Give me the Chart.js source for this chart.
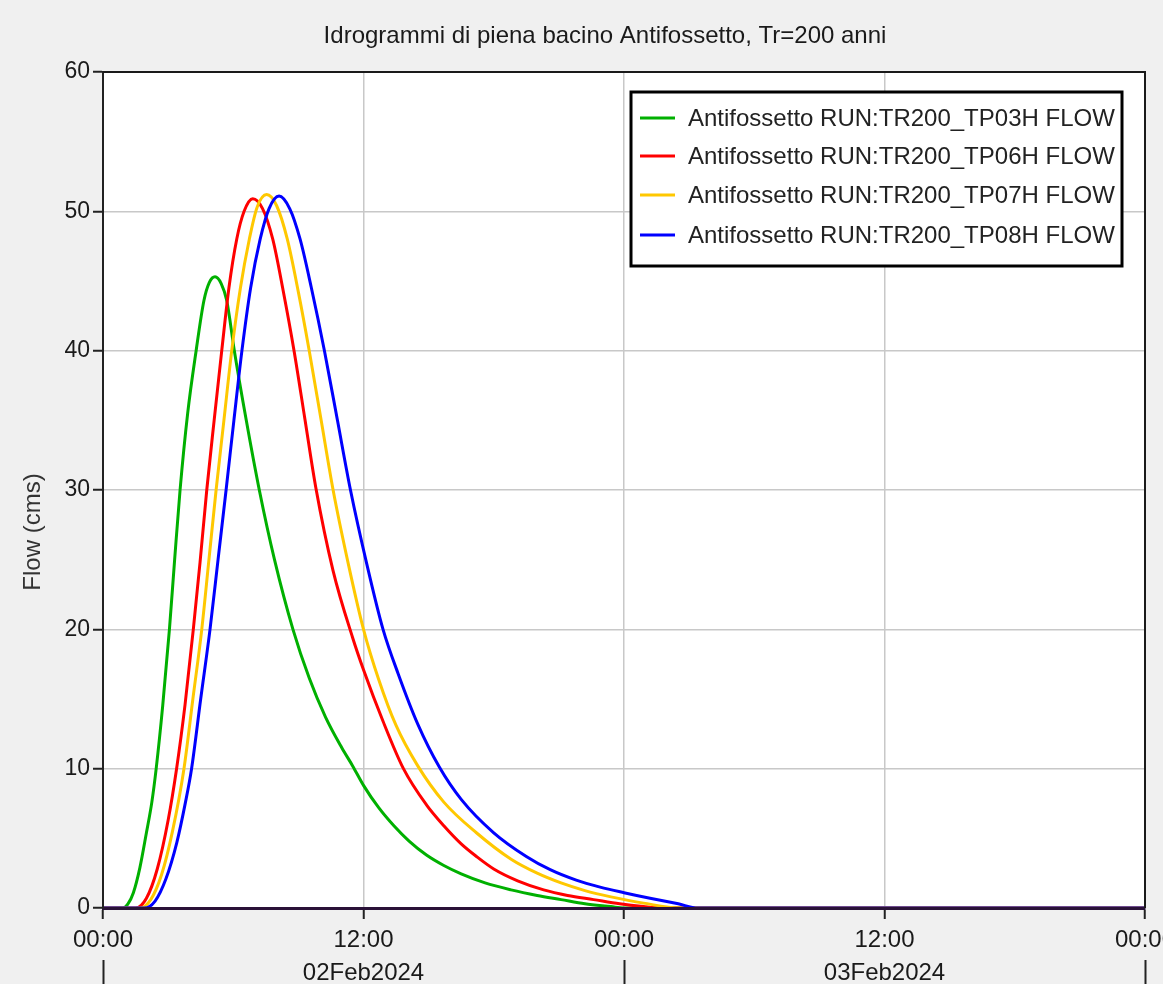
<!DOCTYPE html>
<html>
<head>
<meta charset="utf-8">
<title>Idrogrammi di piena bacino Antifossetto</title>
<script src="https://cdn.jsdelivr.net/npm/chart.js@4.4.1/dist/chart.umd.min.js"></script>
<style>
  html, body { margin: 0; padding: 0; background: #f0f0f0; overflow: hidden; }
  canvas { display: block; }
</style>
</head>
<body>
<canvas id="flowChart" width="1175" height="984"></canvas>
<script>
const hoursTP03 = [0, 0.9, 1.15, 1.4, 1.7, 2.0, 2.25, 2.45, 2.75, 3.06, 3.3, 3.55, 3.9, 4.29, 4.65, 4.9, 5.16, 5.45, 5.7, 6.05, 6.6, 7.2, 7.9, 8.75, 9.5, 10.25, 11.0, 11.5, 12.0, 12.7, 13.4, 14.1, 14.9, 15.7, 16.5, 17.6, 18.8, 20.0, 21.1, 22.2, 23.4, 24.0, 48];
const flowTP03 = [0, 0, 0.3, 1.1, 2.9, 5.4, 7.6, 10, 14.5, 20, 25, 30, 35.5, 40, 43.6, 44.9, 45.3, 44.8, 43.6, 40, 35, 30, 25, 20, 16.5, 13.7, 11.5, 10.2, 8.8, 7.2, 5.9, 4.8, 3.8, 3.05, 2.45, 1.8, 1.3, 0.9, 0.6, 0.3, 0.1, 0, 0];

const hoursTP06 = [0, 1.5, 2.0, 2.5, 3.0, 3.39, 3.78, 4.16, 4.47, 4.78, 5.12, 5.47, 5.8, 6.16, 6.5, 6.9, 7.35, 7.82, 8.3, 8.8, 9.3, 9.8, 10.6, 11.5, 12.0, 12.9, 13.84, 14.9, 15.7, 16.5, 17.2, 18.0, 19.1, 20.3, 21.4, 22.6, 23.8, 24.9, 25.7, 48];
const flowTP06 = [0, 0, 0.7, 2.8, 6.3, 10, 14.6, 20, 24.8, 30, 35, 40, 44.5, 48, 50, 50.9, 50.2, 48, 44.3, 40, 35.1, 30.2, 24.2, 19.4, 17.1, 13.4, 10, 7.4, 5.9, 4.6, 3.7, 2.8, 1.95, 1.3, 0.9, 0.6, 0.3, 0.1, 0, 0];

const hoursTP07 = [0, 1.7, 2.2, 2.7, 3.2, 3.73, 4.14, 4.55, 4.88, 5.21, 5.57, 5.93, 6.33, 6.74, 7.1, 7.54, 8.0, 8.49, 9.0, 9.5, 10.05, 10.6, 11.3, 12.0, 12.7, 13.5, 14.5, 15.7, 17.2, 18.8, 20.0, 21.1, 22.2, 23.4, 24.9, 26.6, 48];
const flowTP07 = [0, 0, 0.6, 2.4, 5.5, 10, 15, 20, 25, 30, 35, 40, 44.5, 48, 50.3, 51.2, 50.4, 48, 44.2, 40, 35, 30, 24.7, 20.0, 16.4, 13.1, 10.2, 7.6, 5.4, 3.5, 2.5, 1.8, 1.25, 0.8, 0.35, 0, 0];

const hoursTP08 = [0, 1.9, 2.4, 2.9, 3.4, 3.8, 4.08, 4.5, 4.93, 5.3, 5.67, 6.03, 6.4, 6.8, 7.24, 7.65, 8.11, 8.6, 9.08, 9.6, 10.2, 10.8, 11.4, 12.15, 12.9, 13.6, 14.5, 15.5, 16.5, 18.0, 19.5, 20.6, 21.8, 22.9, 24.0, 25.2, 26.5, 27.4, 48];
const flowTP08 = [0, 0, 0.5, 2.1, 4.7, 7.6, 10, 15, 20, 25, 30, 35, 40, 44.5, 48, 50.2, 51.1, 50.2, 48, 44.5, 40, 35, 30, 24.7, 20, 16.8, 13.2, 10.1, 7.8, 5.4, 3.7, 2.75, 2.0, 1.5, 1.1, 0.7, 0.3, 0, 0];

const seriesLabels = [
    'Antifossetto RUN:TR200_TP03H FLOW',
    'Antifossetto RUN:TR200_TP06H FLOW',
    'Antifossetto RUN:TR200_TP07H FLOW',
    'Antifossetto RUN:TR200_TP08H FLOW'
];
const seriesColors = ['#00b000', '#ff0000', '#ffc800', '#0000ff'];

const hourTicks = [0, 12, 24, 36, 48];
const dayLabels = { 12: '02Feb2024', 36: '03Feb2024' };

const chartTitle = 'Idrogrammi di piena bacino Antifossetto, Tr=200 anni';
const yTitle = 'Flow (cms)';

const FONT = "'Liberation Sans', Arial, sans-serif";

function toPoints(hours, flows) {
    return hours.map((h, i) => ({ x: h, y: flows[i] }));
}

const allHours = [hoursTP03, hoursTP06, hoursTP07, hoursTP08];
const allFlows = [flowTP03, flowTP06, flowTP07, flowTP08];

const datasets = seriesLabels.map((label, i) => ({
    label: label,
    data: toPoints(allHours[i], allFlows[i]),
    borderColor: seriesColors[i],
    borderWidth: 3,
    pointRadius: 0,
    cubicInterpolationMode: 'monotone',
    order: 4 - i // blue drawn on top
}));

// white plot area, frame, title, y title and boxed legend
const framePlugin = {
    id: 'frame',
    beforeDraw(chart) {
        const { ctx, chartArea: a } = chart;
        ctx.save();
        ctx.fillStyle = '#ffffff';
        ctx.fillRect(a.left, a.top, a.right - a.left, a.bottom - a.top);
        ctx.restore();
    },
    afterDraw(chart) {
        const { ctx, chartArea: a } = chart;
        ctx.save();
        ctx.strokeStyle = '#1a1a1a';
        ctx.lineWidth = 2;
        ctx.beginPath();
        ctx.moveTo(a.left, a.top);
        ctx.lineTo(a.right, a.top);
        ctx.lineTo(a.right, a.bottom);
        ctx.stroke();

        // title
        ctx.fillStyle = '#1a1a1a';
        ctx.font = '24px ' + FONT;
        ctx.textAlign = 'center';
        ctx.textBaseline = 'alphabetic';
        ctx.fillText(chartTitle, 605, 43);

        // y title
        ctx.save();
        ctx.translate(33, 532);
        ctx.rotate(-Math.PI / 2);
        ctx.textBaseline = 'middle';
        ctx.fillStyle = '#333333';
        ctx.fillText(yTitle, 0, 0);
        ctx.restore();

        // legend
        const box = { left: 631, top: 92, right: 1122, bottom: 266 };
        ctx.fillStyle = '#ffffff';
        ctx.fillRect(box.left, box.top, box.right - box.left, box.bottom - box.top);
        ctx.strokeStyle = '#000000';
        ctx.lineWidth = 3;
        ctx.strokeRect(box.left, box.top, box.right - box.left, box.bottom - box.top);
        const rows = [118, 156, 195, 235];
        ctx.textAlign = 'left';
        ctx.textBaseline = 'middle';
        ctx.font = '24px ' + FONT;
        chart.data.datasets.forEach((ds, i) => {
            ctx.strokeStyle = ds.borderColor;
            ctx.lineWidth = 3;
            ctx.beginPath();
            ctx.moveTo(640, rows[i]);
            ctx.lineTo(675, rows[i]);
            ctx.stroke();
            ctx.fillStyle = '#222222';
            ctx.fillText(ds.label, 688, rows[i] + 1);
        });
        ctx.restore();
    }
};

function noSidePadding(scale, h) {
    scale.height = h;
    scale.paddingLeft = 0;
    scale.paddingRight = 0;
}

const ctx = document.getElementById('flowChart').getContext('2d');
const flowChart = new Chart(ctx, {
    type: 'line',
    data: { datasets: datasets },
    options: {
        responsive: false,
        animation: false,
        devicePixelRatio: 1,
        layout: { padding: { top: 72, right: 30, bottom: 0, left: 0 } },
        plugins: {
            legend: { display: false },
            title: { display: false },
            tooltip: { enabled: false }
        },
        scales: {
            x: {
                type: 'linear',
                position: 'bottom',
                min: 0,
                max: 48,
                afterBuildTicks: (scale) => { scale.ticks = hourTicks.map(v => ({ value: v })); },
                afterFit: (scale) => noSidePadding(scale, 52),
                ticks: {
                    color: '#1a1a1a',
                    font: { family: FONT, size: 24 },
                    padding: 7,
                    maxRotation: 0,
                    autoSkip: false,
                    callback: (v) => (v % 24 === 0 ? '00:00' : '12:00')
                },
                grid: { color: '#c8c8c8', lineWidth: 1.5, tickColor: '#222222', tickLength: 11, tickWidth: 2 },
                border: { color: '#2a1238', width: 3, z: 1 }
            },
            days: {
                type: 'linear',
                position: 'bottom',
                min: 0,
                max: 48,
                afterBuildTicks: (scale) => { scale.ticks = hourTicks.map(v => ({ value: v })); },
                afterFit: (scale) => noSidePadding(scale, 24),
                ticks: {
                    color: '#1a1a1a',
                    font: { family: FONT, size: 24 },
                    padding: -27,
                    maxRotation: 0,
                    autoSkip: false,
                    callback: (v) => dayLabels[v] || ''
                },
                grid: {
                    drawOnChartArea: false,
                    tickLength: 26,
                    tickWidth: 2,
                    tickColor: (c) => (c.tick && c.tick.value % 24 === 0 ? '#222222' : 'rgba(0,0,0,0)')
                },
                border: { display: false }
            },
            y: {
                min: 0,
                max: 60,
                afterFit: (scale) => { scale.width = 103; },
                ticks: {
                    stepSize: 10,
                    color: '#1a1a1a',
                    font: { family: FONT, size: 23 },
                    padding: 3
                },
                grid: { color: '#c8c8c8', lineWidth: 1.5, tickColor: '#222222', tickLength: 10, tickWidth: 2 },
                border: { color: '#222222', width: 2, z: 1 }
            }
        }
    },
    plugins: [framePlugin]
});
</script>
</body>
</html>
